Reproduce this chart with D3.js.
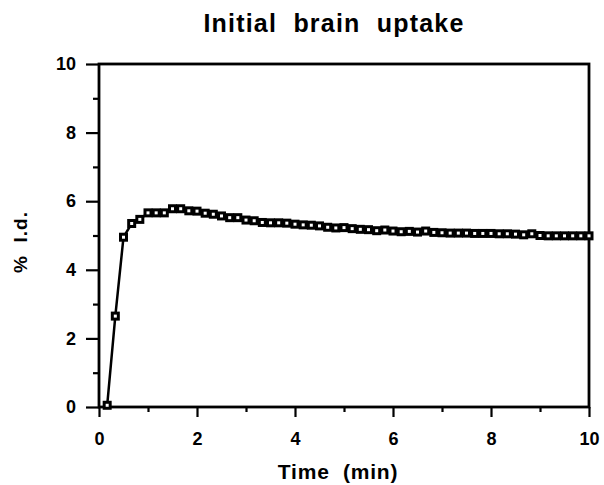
<!DOCTYPE html>
<html>
<head>
<meta charset="utf-8">
<script src="https://cdn.jsdelivr.net/npm/d3@7"></script>
<style>
  body { margin: 0; background: #fff; }
  text { font-family: "Liberation Sans", Arial, sans-serif; font-weight: bold; fill: #000; }
</style>
</head>
<body>
<script>
const WIDTH = 604;
const HEIGHT = 485;
const LEFT = 99, RIGHT = 589, TOP = 64, BOTTOM = 407;

// time in minutes (one sample every 10 s)
var times = [0.167, 0.333, 0.5, 0.667, 0.833, 1.0, 1.167, 1.333, 1.5, 1.667,
  1.833, 2.0, 2.167, 2.333, 2.5, 2.667, 2.833, 3.0, 3.167, 3.333,
  3.5, 3.667, 3.833, 4.0, 4.167, 4.333, 4.5, 4.667, 4.833, 5.0,
  5.167, 5.333, 5.5, 5.667, 5.833, 6.0, 6.167, 6.333, 6.5, 6.667,
  6.833, 7.0, 7.167, 7.333, 7.5, 7.667, 7.833, 8.0, 8.167, 8.333,
  8.5, 8.667, 8.833, 9.0, 9.167, 9.333, 9.5, 9.667, 9.833, 10.0];

// % injected dose in brain
var uptake = [0.05, 2.65, 4.95, 5.35, 5.47, 5.66, 5.66, 5.66, 5.78, 5.78,
  5.72, 5.71, 5.65, 5.62, 5.57, 5.52, 5.52, 5.45, 5.43, 5.38,
  5.37, 5.37, 5.36, 5.33, 5.31, 5.30, 5.28, 5.24, 5.22, 5.23,
  5.20, 5.18, 5.17, 5.14, 5.16, 5.13, 5.11, 5.12, 5.10, 5.13,
  5.09, 5.08, 5.07, 5.07, 5.07, 5.06, 5.06, 5.06, 5.05, 5.05,
  5.04, 5.02, 5.05, 5.00, 4.99, 4.99, 4.99, 4.99, 4.99, 4.99];

var xMajor = [0, 2, 4, 6, 8, 10];
var xMinor = [1, 3, 5, 7, 9];
var yMajor = [0, 2, 4, 6, 8, 10];
var yMinor = [1, 3, 5, 7, 9];

var translate = function(x, y) {
  return "translate(" + x + "," + y + ")";
};

var xScale = d3.scaleLinear().domain([0, 10]).range([LEFT, RIGHT]);
var yScale = d3.scaleLinear().domain([0, 10]).range([BOTTOM, TOP]);

var svg = d3.select('body').append('svg')
  .attr('width', WIDTH)
  .attr('height', HEIGHT);

// axes
var xAxis = d3.axisBottom(xScale).tickValues(xMajor).tickSize(10).tickPadding(15).tickFormat(d3.format('d'));
var xAxisMinor = d3.axisBottom(xScale).tickValues(xMinor).tickSize(5).tickFormat('');
var yAxis = d3.axisLeft(yScale).tickValues(yMajor).tickSize(13).tickPadding(10).tickFormat(d3.format('d'));
var yAxisMinor = d3.axisLeft(yScale).tickValues(yMinor).tickSize(6).tickFormat('');

[xAxis, xAxisMinor].forEach(function(ax) {
  svg.append('g').attr('class', 'axis').attr('transform', translate(0, BOTTOM)).call(ax);
});
[yAxis, yAxisMinor].forEach(function(ax) {
  svg.append('g').attr('class', 'axis').attr('transform', translate(LEFT, 0)).call(ax);
});

svg.selectAll('.axis .domain').remove();
svg.selectAll('.axis line').attr('stroke', '#000').attr('stroke-width', 2.2);
svg.selectAll('.axis text')
  .style('font-size', '18px')
  .style('font-family', '"Liberation Sans", Arial, sans-serif')
  .style('font-weight', 'bold');

// frame
svg.append('rect')
  .attr('x', LEFT).attr('y', TOP)
  .attr('width', RIGHT - LEFT).attr('height', BOTTOM - TOP)
  .attr('fill', 'none')
  .attr('stroke', '#000')
  .attr('stroke-width', 2.8);

// data line
var pts = times.map(function(t, i) { return {x: t, y: uptake[i]}; });

var line = d3.line()
  .x(function(d) { return xScale(d.x); })
  .y(function(d) { return yScale(d.y); });

svg.append('path')
  .attr('d', line(pts))
  .attr('fill', 'none')
  .attr('stroke', '#000')
  .attr('stroke-width', 2.5);

svg.append('g').selectAll('rect')
  .data(pts)
  .enter()
  .append('rect')
  .attr('x', function(d) { return xScale(d.x) - 3; })
  .attr('y', function(d) { return yScale(d.y) - 3; })
  .attr('width', 6)
  .attr('height', 6)
  .attr('fill', '#fff')
  .attr('stroke', '#000')
  .attr('stroke-width', 3);

// titles
svg.append('text')
  .attr('x', 334).attr('y', 32)
  .attr('text-anchor', 'middle')
  .style('font-size', '25px')
  .style('letter-spacing', '1.2px')
  .style('white-space', 'pre')
  .text('Initial  brain  uptake');

svg.append('text')
  .attr('x', 338).attr('y', 479)
  .attr('text-anchor', 'middle')
  .style('font-size', '21px')
  .style('letter-spacing', '0.8px')
  .style('white-space', 'pre')
  .text('Time  (min)');

svg.append('text')
  .attr('transform', translate(27, 242) + ' rotate(-90)')
  .attr('text-anchor', 'middle')
  .style('font-size', '19px')
  .style('letter-spacing', '1px')
  .style('white-space', 'pre')
  .text('%  I.d.');
</script>
</body>
</html>
